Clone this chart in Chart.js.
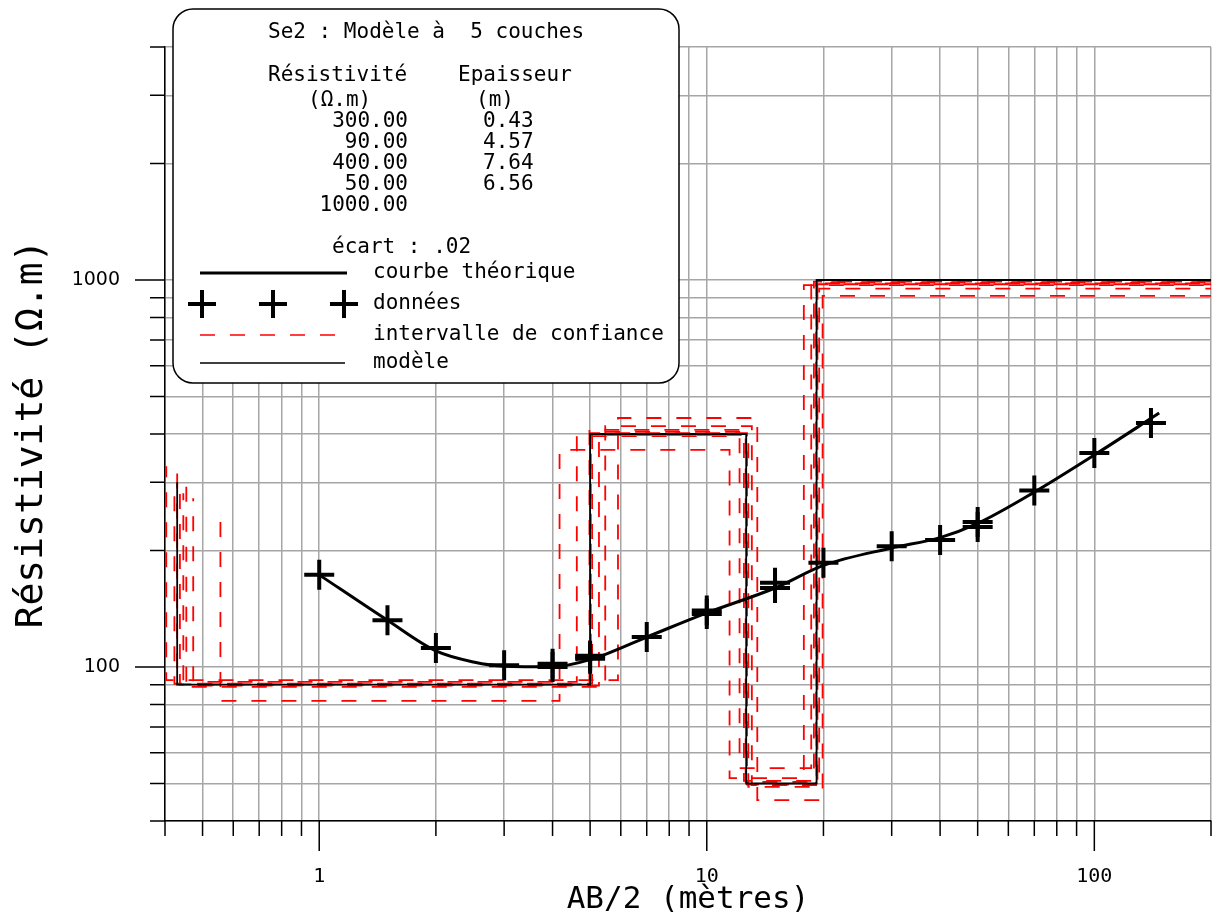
<!DOCTYPE html>
<html>
<head>
<meta charset="utf-8">
<script src="https://cdn.jsdelivr.net/npm/chart.js@4.4.1/dist/chart.umd.min.js"></script>
<style>
  html, body { margin: 0; padding: 0; background: #fff; }
  #wrap { width: 1212px; height: 919px; }
</style>
</head>
<body>
<div id="wrap"><canvas id="sev" width="1212" height="919"></canvas></div>
<script>
// Se2 : données de terrain (AB/2 en m, résistivité apparente en ohm.m)
const dataAB2 = [1, 1.5, 2, 3, 4, 4, 5, 5, 7, 10, 10, 15, 15, 20, 30, 40, 50, 50, 70, 100, 140];
const dataRho = [173, 132, 112, 101, 102, 100, 107, 105, 119.5, 140, 137, 165, 160, 186, 205, 213, 237, 230, 286, 357, 427];

// courbe théorique
const theoAB2 = [1, 1.5, 2, 2.5, 3, 4, 5, 7, 10, 15, 20, 30, 40, 50, 70, 100, 147];
const theoRho = [173, 132, 110, 103, 100.5, 100.2, 104.5, 119.5, 138, 160, 183, 203, 216, 235, 283, 353, 453];

// modèle à 5 couches
const modelRho = [300, 90, 400, 50, 1000];
const modelThick = [0.43, 4.57, 7.64, 6.56];
const ecart = '.02';

// modèles équivalents (intervalle de confiance) : résistivités / profondeurs des interfaces
const confRho = [
  [237, 81.7, 364, 51.6, 970],
  [330, 92.5, 440, 45.3, 910],
  [281, 88.8, 419, 49.5, 950],
  [273, 91.5, 395, 54.8, 980],
  [300, 90.5, 405, 50.8, 990],
  [310, 89.5, 398, 49, 985],
  [290, 90, 410, 50.5, 995],
  [320, 90.2, 402, 49.7, 975]
];
const confDepth = [
  [0.556, 4.17, 11.45, 17.8],
  [0.403, 5.9, 13.5, 19.9],
  [0.446, 5.47, 13.07, 19.5],
  [0.473, 4.62, 12.15, 18.6],
  [0.423, 5.06, 12.47, 18.9],
  [0.454, 5.27, 12.8, 19.3],
  [0.437, 4.98, 12.6, 19.2],
  [0.43, 5.02, 12.7, 19.15]
];

// axes
const xMin = 0.4, xMax = 200, yMin = 40, yMax = 4000;
const xTicks = [0.4, 0.5, 0.6, 0.7, 0.8, 0.9, 1, 2, 3, 4, 5, 6, 7, 8, 9, 10, 20, 30, 40, 50, 60, 70, 80, 90, 100, 200];
const yTicks = [40, 50, 60, 70, 80, 90, 100, 200, 300, 400, 500, 600, 700, 800, 900, 1000, 2000, 3000, 4000];
const xLabels = [1, 10, 100];
const yLabels = [100, 1000];

const MONO = '"DejaVu Sans Mono", monospace';

function depths(thick) {
  let d = 0;
  return thick.map(t => (d += t));
}

function stepPoints(rho, dep) {
  const pts = [];
  for (let i = 0; i < dep.length; i++) {
    pts.push({x: dep[i], y: rho[i]});
    pts.push({x: dep[i], y: rho[i + 1]});
  }
  pts.push({x: xMax, y: rho[rho.length - 1]});
  return pts;
}

const datasets = [
  {
    label: 'données',
    data: dataAB2.map((x, i) => ({x, y: dataRho[i]})),
    showLine: false,
    pointStyle: 'cross',
    pointRadius: 15,
    pointBorderWidth: 4,
    pointBorderColor: '#000',
    order: 0
  },
  {
    label: 'courbe théorique',
    data: theoAB2.map((x, i) => ({x, y: theoRho[i]})),
    borderColor: '#000',
    borderWidth: 3,
    pointRadius: 0,
    cubicInterpolationMode: 'monotone',
    order: 1
  },
  {
    label: 'modèle',
    data: stepPoints(modelRho, depths(modelThick)),
    borderColor: '#000',
    borderWidth: 1.8,
    pointRadius: 0,
    tension: 0,
    order: 2
  }
];

confRho.forEach((rho, k) => {
  datasets.push({
    label: 'intervalle de confiance',
    data: stepPoints(rho, confDepth[k]),
    borderColor: '#ff0000',
    borderWidth: 1.8,
    borderDash: [15, 15],
    borderDashOffset: k * 4,
    pointRadius: 0,
    tension: 0,
    order: 3 + k
  });
});

function roundRect(ctx, x, y, w, h, r) {
  ctx.beginPath();
  ctx.moveTo(x + r, y);
  ctx.lineTo(x + w - r, y);
  ctx.arcTo(x + w, y, x + w, y + r, r);
  ctx.lineTo(x + w, y + h - r);
  ctx.arcTo(x + w, y + h, x + w - r, y + h, r);
  ctx.lineTo(x + r, y + h);
  ctx.arcTo(x, y + h, x, y + h - r, r);
  ctx.lineTo(x, y + r);
  ctx.arcTo(x, y, x + r, y, r);
  ctx.closePath();
}

function noPad(s) {
  s.paddingLeft = 0;
  s.paddingRight = 0;
  s.paddingTop = 0;
  s.paddingBottom = 0;
}

// graduations (longues sur les décades) + cartouche
const decor = {
  id: 'decor',
  afterDraw(chart) {
    const ctx = chart.ctx;
    const xs = chart.scales.x, ys = chart.scales.y;
    ctx.save();
    ctx.strokeStyle = '#000';
    ctx.lineWidth = 1.5;
    ctx.beginPath();
    xs.ticks.forEach(t => {
      const px = xs.getPixelForValue(t.value);
      const len = xLabels.includes(t.value) ? 30 : 15;
      ctx.moveTo(px, xs.top);
      ctx.lineTo(px, xs.top + len);
    });
    ys.ticks.forEach(t => {
      const py = ys.getPixelForValue(t.value);
      const len = yLabels.includes(t.value) ? 30 : 15;
      ctx.moveTo(ys.right, py);
      ctx.lineTo(ys.right - len, py);
    });
    ctx.stroke();

    // cartouche
    roundRect(ctx, 173, 9, 506, 374, 20);
    ctx.fillStyle = '#fff';
    ctx.fill();
    ctx.lineWidth = 1.5;
    ctx.strokeStyle = '#000';
    ctx.stroke();

    ctx.fillStyle = '#000';
    ctx.font = '21px ' + MONO;
    ctx.textBaseline = 'middle';
    ctx.textAlign = 'left';
    ctx.fillText('Se2 : Modèle à  ' + modelRho.length + ' couches', 268, 33);
    ctx.fillText('Résistivité', 268, 76);
    ctx.fillText('Epaisseur', 458, 76);
    ctx.fillText('(Ω.m)', 308, 101);
    ctx.fillText('(m)', 476, 101);
    modelRho.forEach((r, i) => {
      ctx.textAlign = 'right';
      ctx.fillText(r.toFixed(2), 408, 122 + i * 21);
      if (i < modelThick.length) {
        ctx.textAlign = 'left';
        ctx.fillText(modelThick[i].toFixed(2), 483, 122 + i * 21);
      }
    });
    ctx.textAlign = 'left';
    ctx.fillText('écart : ' + ecart, 332, 248);
    ctx.fillText('courbe théorique', 373, 273);
    ctx.fillText('données', 373, 304);
    ctx.fillText('intervalle de confiance', 373, 335);
    ctx.fillText('modèle', 373, 363);

    // symboles
    ctx.beginPath();
    ctx.lineWidth = 3;
    ctx.moveTo(200, 273);
    ctx.lineTo(347, 273);
    ctx.stroke();

    ctx.beginPath();
    ctx.lineWidth = 4;
    [202, 273, 344].forEach(cx => {
      ctx.moveTo(cx - 14, 304);
      ctx.lineTo(cx + 14, 304);
      ctx.moveTo(cx, 290);
      ctx.lineTo(cx, 318);
    });
    ctx.stroke();

    ctx.beginPath();
    ctx.strokeStyle = '#ff0000';
    ctx.lineWidth = 1.6;
    ctx.setLineDash([15, 15]);
    ctx.moveTo(200, 335);
    ctx.lineTo(345, 335);
    ctx.stroke();
    ctx.setLineDash([]);

    ctx.beginPath();
    ctx.strokeStyle = '#000';
    ctx.lineWidth = 1.5;
    ctx.moveTo(200, 363);
    ctx.lineTo(345, 363);
    ctx.stroke();
    ctx.restore();
  }
};

new Chart(document.getElementById('sev'), {
  type: 'line',
  data: { datasets },
  options: {
    responsive: false,
    animation: false,
    events: [],
    layout: { autoPadding: false, padding: { top: 47, right: 1, left: 0, bottom: 0 } },
    plugins: { legend: { display: false }, tooltip: { enabled: false } },
    scales: {
      x: {
        type: 'logarithmic',
        min: xMin,
        max: xMax,
        afterBuildTicks: s => { s.ticks = xTicks.map(v => ({value: v})); },
        afterFit: s => { s.height = 98; noPad(s); },
        grid: { color: '#a6a6a6', lineWidth: 1.5, drawTicks: false },
        border: { display: true, color: '#000', width: 1.5 },
        ticks: {
          autoSkip: false,
          maxRotation: 0,
          padding: 44,
          color: '#000',
          font: { family: MONO, size: 20 },
          callback: v => (xLabels.includes(v) ? String(v) : '')
        },
        title: {
          display: true,
          text: 'AB/2 (mètres)',
          color: '#000',
          font: { family: MONO, size: 31 },
          padding: { top: 0, bottom: 0 }
        }
      },
      y: {
        type: 'logarithmic',
        min: yMin,
        max: yMax,
        afterBuildTicks: s => { s.ticks = yTicks.map(v => ({value: v})); },
        afterFit: s => { s.width = 165; noPad(s); },
        grid: { color: '#a6a6a6', lineWidth: 1.5, drawTicks: false },
        border: { display: true, color: '#000', width: 1.5 },
        ticks: {
          autoSkip: false,
          padding: 45,
          color: '#000',
          font: { family: '"DejaVu Sans", sans-serif', size: 19 },
          callback: v => (yLabels.includes(v) ? String(v) : '')
        },
        title: {
          display: true,
          text: 'Résistivité (Ω.m)',
          color: '#000',
          font: { family: MONO, size: 38 },
          padding: { top: 9, bottom: 0 }
        }
      }
    }
  },
  plugins: [decor]
});
</script>
</body>
</html>
